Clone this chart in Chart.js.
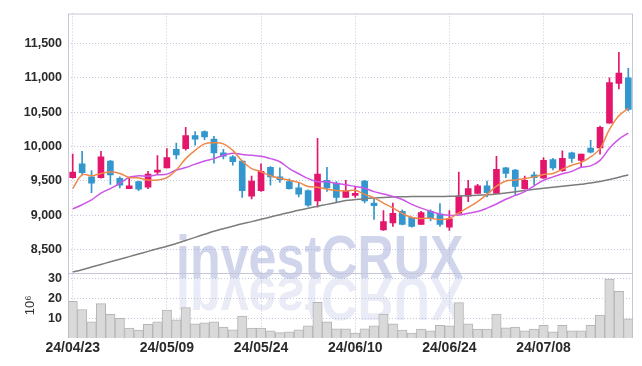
<!DOCTYPE html>
<html><head><meta charset="utf-8">
<script src="https://cdn.jsdelivr.net/npm/chart.js@4.4.1/dist/chart.umd.min.js"></script>
<style>html,body{margin:0;padding:0;background:#fff}#wrap{width:642px;height:366px;position:relative}</style>
</head><body><div id="wrap"><canvas id="c" width="642" height="366"></canvas></div>
<script>
const dates = ['24/04/23','24/04/24','24/04/25','24/04/26','24/04/29','24/04/30','24/05/02','24/05/03','24/05/07','24/05/08',
'24/05/09','24/05/10','24/05/13','24/05/14','24/05/16','24/05/17','24/05/20','24/05/21','24/05/22','24/05/23',
'24/05/24','24/05/27','24/05/28','24/05/29','24/05/30','24/05/31','24/06/03','24/06/04','24/06/05','24/06/07',
'24/06/10','24/06/11','24/06/12','24/06/13','24/06/14','24/06/17','24/06/18','24/06/19','24/06/20','24/06/21',
'24/06/24','24/06/25','24/06/26','24/06/27','24/06/28','24/07/01','24/07/02','24/07/03','24/07/04','24/07/05',
'24/07/08','24/07/09','24/07/10','24/07/11','24/07/12','24/07/15','24/07/16','24/07/17','24/07/18','24/07/19'];
const opens = [9550,9750,9560,9550,9790,9540,9390,9490,9410,9630,9690,9960,9970,10160,10220,10110,9910,9850,9790,9280,9360,9700,9560,9490,9400,9360,9210,9510,9470,9260,9290,9500,9180,8790,8890,9060,8970,8870,9060,9020,8830,9030,9280,9320,9430,9320,9690,9660,9390,9590,9540,9810,9650,9910,9800,9980,9980,10340,10920,11000];
const highs = [9890,9930,9650,9930,9800,9560,9540,9500,9640,9870,9970,10050,10280,10220,10230,10150,9960,9870,9800,9570,9750,9710,9690,9530,9470,9370,10120,9700,9490,9510,9410,9510,9250,9070,9180,9080,8980,9060,9080,9170,9070,9630,9510,9450,9500,9860,9700,9670,9570,9630,9840,9830,9940,9920,9890,10090,10300,11000,11370,11140];
const lows = [9540,9590,9330,9540,9450,9400,9390,9360,9390,9600,9690,9820,9950,10020,10100,9760,9820,9730,9260,9240,9350,9440,9480,9380,9270,9130,9120,9350,9200,9260,9260,9180,8940,8780,8840,8860,8830,8870,8920,8840,8780,9020,9200,9320,9270,9320,9550,9290,9380,9440,9540,9660,9640,9770,9710,9910,9890,10340,10840,10520];
const closes = [9630,9620,9470,9850,9590,9440,9430,9380,9600,9660,9840,9880,10160,10110,10140,9910,9860,9780,9360,9500,9640,9560,9520,9390,9310,9150,9600,9400,9260,9360,9320,9210,9140,8910,9030,8870,8840,9040,8960,8870,8950,9280,9390,9430,9330,9670,9610,9420,9510,9550,9800,9690,9830,9830,9890,9920,10280,10930,11070,10540];
const ma5 = [9390,9590,9575,9610,9630,9610,9550,9545,9515,9515,9550,9660,9825,9945,10040,10055,10040,9945,9790,9680,9635,9575,9540,9510,9480,9420,9410,9380,9360,9355,9365,9305,9255,9178,9108,9028,8970,8955,8958,8940,8955,9035,9115,9200,9305,9425,9500,9515,9535,9560,9595,9610,9670,9730,9770,9850,9970,10250,10450,10555];
const ma10 = [9095,9155,9225,9325,9390,9465,9555,9575,9570,9590,9600,9660,9695,9745,9790,9825,9875,9905,9885,9875,9860,9825,9780,9680,9605,9535,9490,9490,9465,9445,9420,9395,9345,9310,9275,9230,9160,9105,9060,9020,9000,9005,9030,9055,9105,9165,9235,9290,9345,9430,9510,9560,9605,9640,9700,9720,9800,9975,10110,10195];
const ma60 = [8175,8210,8248,8286,8324,8362,8400,8438,8476,8514,8550,8592,8634,8680,8725,8770,8806,8842,8877,8909,8942,8976,9010,9042,9074,9103,9132,9160,9187,9215,9229,9243,9253,9261,9267,9271,9273,9273,9273,9274,9277,9282,9287,9293,9301,9312,9327,9343,9362,9380,9395,9409,9423,9438,9453,9469,9492,9522,9555,9587];
const volumes = [18.6,14.5,8.2,17.5,12,10,5,4,7,8.2,14.2,9.2,15.5,7.2,7.7,8.2,5.5,4.2,11.2,5,5,3.7,2.7,3.2,4.2,6.2,18.2,8.2,4.7,4.7,2.5,4.7,6.2,12.2,7.2,4,2.5,4.5,3.7,6.5,6.2,18,7.2,4.5,4.5,12.2,5.2,5.5,3.7,4.5,6.5,3.2,6.5,3.7,3.7,6.5,11.7,30,23.7,9.8];
const priceTicks = [8500,9000,9500,10000,10500,11000,11500];
const volumeTicks = [10,20,30];
const dateTickEvery = 10;

const UP = '#e3166c', DOWN = '#3396cc';
const candleColors = opens.map((o,i)=> closes[i] >= o ? UP : DOWN);
const FONT = "'Liberation Sans Narrow','Liberation Sans',Arial,sans-serif";
const GRID = '#c3c6dc';

const watermark = {
  id:'wm',
  beforeDatasetsDraw(chart){
    const ctx = chart.ctx, a = chart.chartArea;
    ctx.save();
    ctx.beginPath(); ctx.rect(a.left, a.top, a.right-a.left, a.bottom-a.top); ctx.clip();
    ctx.font = "bold 62px 'Liberation Sans',Arial,sans-serif";
    ctx.textBaseline = 'alphabetic';
    const x = 176, base = 278, sx = 0.81;
    ctx.save();
    ctx.translate(x, base); ctx.scale(sx, 1);
    ctx.fillStyle = 'rgba(150,162,212,0.45)';
    ctx.fillText('investCRUX', 0, 0);
    ctx.restore();
    ctx.save();
    ctx.translate(x, base); ctx.scale(sx, -1);
    ctx.fillStyle = 'rgba(175,182,222,0.28)';
    ctx.fillText('investCRUX', 0, 0);
    ctx.restore();
    ctx.restore();
    const yv = chart.scales.y;
    ctx.save();
    ctx.strokeStyle = '#c5c7d9'; ctx.lineWidth = 1;
    ctx.strokeRect(a.left+0.5, a.top+0.5, a.right-a.left-1, a.bottom-a.top-1);
    ctx.beginPath(); ctx.moveTo(a.left, Math.round(yv.bottom)+0.5); ctx.lineTo(a.right, Math.round(yv.bottom)+0.5); ctx.stroke();
    ctx.restore();
  }
};

new Chart(document.getElementById('c'), {
  type: 'bar',
  data: {
    labels: dates,
    datasets: [
      {type:'line', data: ma5, yAxisID:'y', borderColor:'#f0884a', borderWidth:1.5, pointRadius:0, tension:0.35, fill:false},
      {type:'line', data: ma10, yAxisID:'y', borderColor:'#cc55e8', borderWidth:1.5, pointRadius:0, tension:0.35, fill:false},
      {type:'line', data: ma60, yAxisID:'y', borderColor:'#7c7c7c', borderWidth:1.5, pointRadius:0, tension:0.35, fill:false},
      {data: opens.map((o,i)=>[o, closes[i]]), yAxisID:'y', backgroundColor: candleColors, barThickness:6, grouped:false, borderWidth:0},
      {data: lows.map((l,i)=>[l, highs[i]]), yAxisID:'y', backgroundColor: candleColors, barThickness:1, grouped:false, borderWidth:0},
      {data: volumes, yAxisID:'yv', backgroundColor:'#d9d9d9', borderColor:'#b5b5b5', borderWidth:1, barPercentage:1, categoryPercentage:1, grouped:false}
    ]
  },
  options: {
    responsive:false, animation:false, devicePixelRatio:1,
    layout:{padding:{top:10, right:9, left:0, bottom:0}},
    plugins:{legend:{display:false}, tooltip:{enabled:false}},
    scales: {
      x: {
        offset:true,
        afterBuildTicks: s => { s.ticks = s.ticks.filter(t => t.value % dateTickEvery === 0); },
        afterFit: s => { s.height = 28; },
        grid:{offset:false, color:GRID, drawTicks:false},
        border:{display:false, dash:[1,2]},
        ticks:{autoSkip:false, maxRotation:0, padding:2, color:'#2a2a2a', font:{family:FONT, size:14, weight:'bold'}}
      },
      yv: {
        position:'left', stack:'s', stackWeight:66, min:0, max:33.2,
        afterBuildTicks: s => { s.ticks = volumeTicks.map(v=>({value:v})); },
        afterFit: s => { s.width = 68; },
        grid:{color:GRID, drawTicks:false},
        border:{display:false, dash:[1,2]},
        title:{display:true, text:'10⁶', color:'#333', font:{family:FONT, size:13}, padding:{top:23, bottom:0}},
        ticks:{autoSkip:false, padding:6, color:'#2a2a2a', font:{family:FONT, size:12.5, weight:'bold'}}
      },
      y: {
        position:'left', stack:'s', stackWeight:262, min:8166, max:11936,
        afterBuildTicks: s => { s.ticks = priceTicks.map(v=>({value:v})); },
        afterFit: s => { s.width = 68; },
        grid:{color:GRID, drawTicks:false},
        border:{display:false, dash:[1,2]},
        ticks:{autoSkip:false, padding:6, color:'#2a2a2a', font:{family:FONT, size:12.5, weight:'bold'},
          callback: v => v.toLocaleString('en-US')}
      }
    }
  },
  plugins:[watermark]
});
</script></body></html>
